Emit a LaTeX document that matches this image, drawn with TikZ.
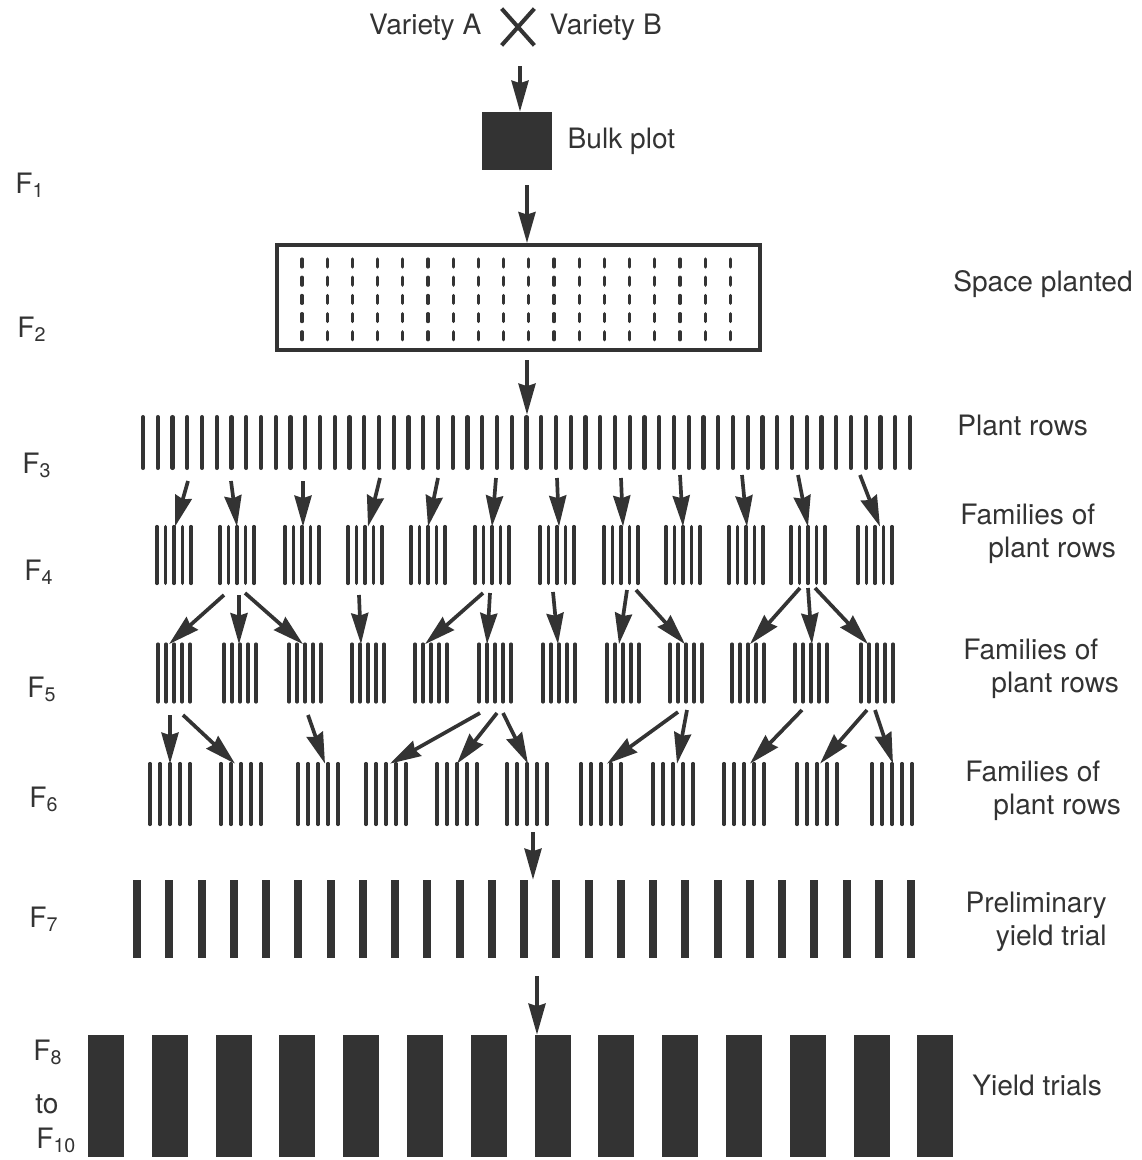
\documentclass[tikz,border=0pt]{standalone}
\usepackage{fontspec}
\setmainfont{TeX Gyre Heros}
\usetikzlibrary{arrows.meta,positioning}
\definecolor{ink}{HTML}{333333}

\begin{document}
\begin{tikzpicture}[
  x=0.02cm, y=-0.02cm,
  lbl/.style={font=\fontsize{16}{18.6}\selectfont, inner sep=0pt, text=ink},
  arr/.style={-{Stealth[length=0.62cm,width=0.34cm,inset=0.05cm]}, line width=2.1pt, draw=ink},
  xline/.style={line width=2.3pt, draw=ink},
  dashline/.style={line width=1.8pt, draw=ink, line cap=round},
  rowline/.style={line width=2.3pt, draw=ink, line cap=round},
  famline/.style={line width=2pt, draw=ink, line cap=round},
  barline/.style={line width=0.16cm, draw=ink},
  fam/.style={inner sep=0pt, minimum height=1.14cm},
  block/.style={inner sep=0pt}
]
  \useasboundingbox (0,0) rectangle (1142,1160);

  % cross and bulk plot
  \node[block, minimum width=0.64cm, minimum height=0.72cm] (cross) at (518,27) {};
  \draw[xline] (cross.north west) -- (cross.south east);
  \draw[xline] (cross.south west) -- (cross.north east);
  \node[lbl, left=0.4cm of cross] (varA) {Variety A};
  \node[lbl, right=0.3cm of cross] (varB) {Variety B};
  \node[block, fill=ink, minimum width=1.4cm, minimum height=1.16cm] (bulk) at (517,141) {};
  \node[lbl, right=0.3cm of bulk] (bulklbl) {Bulk plot};
  \coordinate (b1) at (520,66);
  \draw[arr] (b1) -- (b1 |- bulk.north);

  % F2 space planted
  \node[block, draw=ink, line width=2.2pt, minimum width=9.66cm, minimum height=2.1cm] (space) at (518.5,297.5) {};
  \foreach \i in {0,...,17}
    \foreach \j in {0,...,4}
      \draw[dashline] (302+\i*25.2,259+\j*18.2) -- ++(0,8);
  \coordinate (b2) at (527,185);
  \draw[arr] (b2) -- (b2 |- space.north);

  % F3 plant rows
  \node[block, minimum width=15.34cm, minimum height=1.1cm] (rows3) at (526.5,442.5) {};
  \foreach \i in {0,...,52}
    \draw[rowline] (143+\i*14.75,417) -- (143+\i*14.75,468);
  \coordinate (b3) at (527,360);
  \draw[arr] (b3) -- (b3 |- rows3.north);

  % F4 families
  \foreach \n/\x in {1/174,2/237,3/302,4/365,5/428,6/492,7/557,8/621,9/683,10/746,11/808,12/875} {
    \node[fam, minimum width=0.72cm, minimum height=1.12cm] (f4-\n) at (\x,555) {};
    \foreach \k in {-2,...,2}
      \draw[famline] ([xshift=\k*0.17cm]f4-\n.south) -- ([xshift=\k*0.17cm]f4-\n.north);
  }
  \foreach \sx/\sy/\t/\dx in {188/481/f4-1/1, 231/481/f4-2/0, 303/481/f4-3/1, 380/478/f4-4/3,
      438/478/f4-5/0, 496/478/f4-6/0, 557/478/f4-7/2, 621/478/f4-8/2, 680/475/f4-9/0,
      742/475/f4-10/1, 798/475/f4-11/0, 860/475/f4-12/5} {
    \coordinate (src) at (\sx,\sy);
    \draw[arr] (src) -- ([xshift=\dx*0.02cm]\t.north);
  }

  % F5 families
  \foreach \n/\x in {1/174,2/240,3/305,4/368,5/431,6/495,7/559,8/623,9/686,10/748,11/811,12/877} {
    \node[fam, minimum width=0.68cm] (f5-\n) at (\x,673) {};
    \foreach \k in {-2,...,2}
      \draw[famline] ([xshift=\k*0.16cm]f5-\n.south) -- ([xshift=\k*0.16cm]f5-\n.north);
  }
  \foreach \sx/\sy/\t/\dx in {224/595/f5-1/-5, 239/595/f5-2/-1, 245/593/f5-3/-2, 359/595/f5-4/-7,
      483/593/f5-5/-6, 490/593/f5-6/-8, 553/592/f5-7/-1, 627/590/f5-8/-4, 636/590/f5-9/-1,
      800/588/f5-10/2, 808/588/f5-11/1, 815/588/f5-12/-9} {
    \coordinate (src) at (\sx,\sy);
    \draw[arr] (src) -- ([xshift=\dx*0.02cm]\t.north);
  }

  % F6 families
  \foreach \n/\x in {1/170,2/241,3/318,4/386,5/457,6/527,7/601,8/673,9/744,10/817,11/892} {
    \node[fam, minimum width=0.84cm, minimum height=1.2cm] (f6-\n) at (\x,794) {};
    \foreach \k in {-2,...,2}
      \draw[famline] ([xshift=\k*0.2cm]f6-\n.south) -- ([xshift=\k*0.2cm]f6-\n.north);
  }
  \foreach \sx/\sy/\t/\dx in {170/715/f6-1/0, 183/715/f6-2/-6, 308/715/f6-3/7, 480/713/f6-4/4,
      497/713/f6-5/0, 503/713/f6-6/1, 678/712/f6-7/6, 687/710/f6-8/4, 802/710/f6-9/6,
      867/710/f6-10/3, 875/710/f6-11/1} {
    \coordinate (src) at (\sx,\sy);
    \draw[arr] (src) -- ([xshift=\dx*0.02cm]\t.north);
  }

  % F7 preliminary yield trial
  \node[block, minimum width=15.48cm, minimum height=1.56cm] (trial7) at (524,919) {};
  \foreach \i in {0,...,24}
    \draw[barline] (137+\i*32.25,880) -- ++(0,78);
  \coordinate (b7) at (533,832);
  \draw[arr] (b7) -- (b7 |- trial7.north);

  % F8 to F10 yield trials
  \node[block, minimum width=17.3cm, minimum height=2.44cm] (trial8) at (520.5,1096) {};
  \foreach \i in {0,...,13}
    \fill[ink] (88+\i*63.8,1035) rectangle ++(36,122);
  \coordinate (b8) at (537,976);
  \draw[arr] (b8) -- (b8 |- trial8.north);

  % generation labels
  \node[lbl, anchor=base west] (g1) at (15,193) {F\textsubscript{1}};
  \node[lbl, anchor=base west] (g2) at (17,337) {F\textsubscript{2}};
  \node[lbl, anchor=base west] (g3) at (22,473) {F\textsubscript{3}};
  \node[lbl, anchor=base west] (g4) at (24,580) {F\textsubscript{4}};
  \node[lbl, anchor=base west] (g5) at (27,697) {F\textsubscript{5}};
  \node[lbl, anchor=base west] (g6) at (29,807) {F\textsubscript{6}};
  \node[lbl, anchor=base west] (g7) at (29,927) {F\textsubscript{7}};
  \node[lbl, anchor=base west] (g8) at (33,1060) {F\textsubscript{8}};
  \node[lbl, anchor=base west] (gto) at (35,1113) {to};
  \node[lbl, anchor=base west] (g10) at (36,1148) {F\textsubscript{10}};

  % stage labels
  \node[lbl, anchor=base west] (lspace) at (953,291) {Space planted};
  \node[lbl, anchor=base west] (lrows) at (957,435) {Plant rows};
  \node[lbl, anchor=west, align=left] (lfam4) at (960,534) {Families of\\\hspace*{1em}plant rows};
  \node[lbl, anchor=west, align=left] (lfam5) at (963,669) {Families of\\\hspace*{1em}plant rows};
  \node[lbl, anchor=west, align=left] (lfam6) at (965,791) {Families of\\\hspace*{1em}plant rows};
  \node[lbl, anchor=east, align=right] (lprelim) at (1107,922) {Preliminary\\yield trial};
  \node[lbl, anchor=base west] (lyield) at (972,1095) {Yield trials};
\end{tikzpicture}
\end{document}
